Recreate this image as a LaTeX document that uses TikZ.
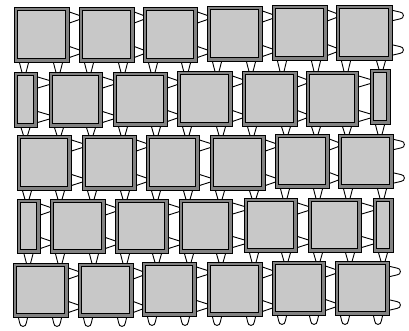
\documentclass[tikz,border=0pt]{standalone}
\definecolor{framegray}{RGB}{130,130,130}
\definecolor{innergray}{RGB}{200,200,200}
\tikzset{
  frame/.style={draw=black, line width=0.9pt, fill=framegray},
  inner/.style={draw=black, line width=0.9pt, fill=innergray},
  tab/.style={draw=black, line width=0.9pt, fill=white, line join=round}
}
\newcommand\blk[4]{%
  \draw[frame] (#1,#2) rectangle (#3,#4);
  \draw[inner] (#1+3.3,#2+3.3) rectangle (#3-3.3,#4-3.3);}
\newcommand\rtab[3]{%
  \draw[tab] (#1-1,#2-6) -- (#3+0.5,#2-2) -- (#3+0.5,#2+2) -- (#1-1,#2+6) -- cycle;}
\newcommand\rtabr[2]{%
  \draw[tab] (#1-1,#2-5.5) -- (#1+8,#2-3.4) .. controls (#1+12.5,#2-3.4) and (#1+12.5,#2+3.4) .. (#1+8,#2+3.4) -- (#1-1,#2+5.5) -- cycle;}
\newcommand\btab[3]{%
  \draw[tab] (#1-5,#2-1) -- (#1-2,#3+0.5) -- (#1+2,#3+0.5) -- (#1+5,#2-1) -- cycle;}
\newcommand\btabr[2]{%
  \draw[tab] (#1-5,#2-1) -- (#1-3.3,#2+6) .. controls (#1-3.3,#2+10.5) and (#1+3.3,#2+10.5) .. (#1+3.3,#2+6) -- (#1+5,#2-1) -- cycle;}
\begin{document}
\begin{tikzpicture}[x=1pt,y=-1pt]
\useasboundingbox (0,0) rectangle (409,331);
% right tabs: x, y1, y2 (block top/bottom), xend
\foreach \x/\ya/\yb/\e in {
  69/7/62/79, 134/7/62/143, 197/7/62/207, 262/6/61/272, 327/5/60/336,
  37/72/127/49, 102/72/127/113, 167/72/126/177, 232/71/126/242, 297/71/126/306, 358/71/126/370,
  71/135/190/82, 136/135/190/146, 199/135/190/210, 265/135/190/275, 329/134/188/338,
  40/199/253/50, 105/199/253/115, 168/199/253/179, 232/198/252/244, 297/198/252/308, 361/198/252/373,
  68/263/317/78, 133/263/317/142, 196/262/316/207, 262/262/316/272, 325/261/315/335}
{\rtab{\x}{\ya+10.5}{\e}\rtab{\x}{\yb-10}{\e}}
\foreach \x/\ya/\yb in {392/5/60, 393/134/188, 389/261/315}
{\rtabr{\x}{\ya+10.5}\rtabr{\x}{\yb-10}}
% bottom tabs: xc, ytop, ybot
\foreach \c/\t/\b in {
  24/62/72, 58/62/72, 89/62/72, 123/62/72, 153/62/72, 186/62/72,
  217/61/71, 251/61/71, 282/60/71, 316/60/71, 346/60/71, 381/60/69,
  25.5/127/135, 59/127/135, 91/127/135, 123/126/135, 156/126/135, 187/126/135,
  221/126/135, 252/126/135, 286/126/134, 316/126/134, 347/126/134, 380/124/134,
  27/190/199, 60/190/199, 92/190/199, 125/190/199, 156/190/199, 188/190/199,
  220/190/199, 254/190/198, 285/188/198, 318/188/198, 348/188/198, 382/188/198,
  28.5/253/263, 60/253/263, 94/253/263, 125/253/263, 157/253/262,
  189/253/262, 221/253/262, 254/252/262, 286/252/261, 318/252/261, 350/252/261, 383/252/261}
{\btab{\c}{\t}{\b}}
\foreach \c/\t in {23/317, 57/317, 88/317, 122/317, 152/316, 185/316,
  217/316, 251/316, 282/315, 314/315, 345/315, 378/315}
{\btabr{\c}{\t}}
% blocks
\foreach \a/\b/\c/\d in {
  14/7/69/62, 79/7/134/62, 143/7/197/62, 207/6/262/61, 272/5/327/60, 336/5/392/60,
  14/72/37/127, 49/72/102/127, 113/72/167/126, 177/71/232/126, 242/71/297/126, 306/71/358/126, 370/69/390/124,
  17/135/71/190, 82/135/136/190, 146/135/199/190, 210/135/265/190, 275/134/329/188, 338/134/393/188,
  17/199/40/253, 50/199/105/253, 115/199/168/253, 179/199/232/253, 244/198/297/252, 308/198/361/252, 373/198/393/252,
  13/263/68/317, 78/263/133/317, 142/262/196/316, 207/262/262/316, 272/261/325/315, 335/261/389/315}
{\blk{\a}{\b}{\c}{\d}}
\end{tikzpicture}
\end{document}
